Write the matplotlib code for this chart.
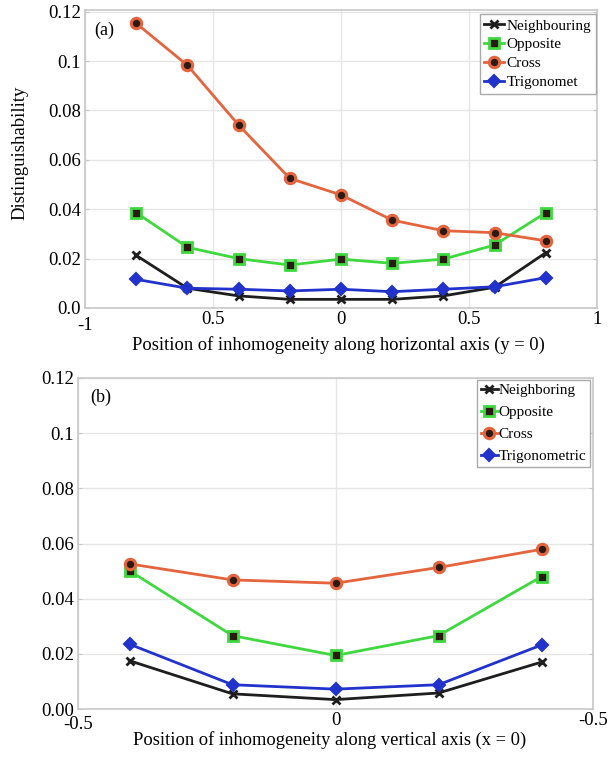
import matplotlib
matplotlib.use("Agg")
import matplotlib.pyplot as plt

plt.rcParams['font.family'] = ['Liberation Serif', 'DejaVu Serif']

# ---- data (a): horizontal axis, y = 0 ----
xa = [-0.8, -0.6, -0.4, -0.2, 0.0, 0.2, 0.4, 0.6, 0.8]
a_neigh = [0.0213, 0.0080, 0.0049, 0.0035, 0.0035, 0.0035, 0.0049, 0.0084, 0.0224]
a_opp = [0.0386, 0.0246, 0.0200, 0.0174, 0.0198, 0.0181, 0.0198, 0.0255, 0.0386]
a_cross = [0.1153, 0.0983, 0.0741, 0.0525, 0.0458, 0.0356, 0.0313, 0.0305, 0.0272]
a_trig = [0.0116, 0.0080, 0.0076, 0.0069, 0.0076, 0.0066, 0.0076, 0.0086, 0.0123]
a_labels = ['Neighbouring', 'Opposite', 'Cross', 'Trigonomet']
a_xticks = [-1, -0.5, 0, 0.5, 1]
a_xticklabels = ['-1', '0.5', '0', '0.5', '1']
a_yticks = [0.0, 0.02, 0.04, 0.06, 0.08, 0.1, 0.12]
a_yticklabels = ['0.0', '0.02', '0.04', '0.06', '0.08', '0.1', '0.12']

# ---- data (b): vertical axis, x = 0 ----
xb = [-0.4, -0.2, 0.0, 0.2, 0.4]
b_neigh = [0.0175, 0.0055, 0.0034, 0.0058, 0.0170]
b_opp = [0.0501, 0.0266, 0.0194, 0.0266, 0.0480]
b_cross = [0.0526, 0.0468, 0.0456, 0.0513, 0.0579]
b_trig = [0.0235, 0.0088, 0.0072, 0.0088, 0.0232]
b_labels = ['Neighboring', 'Opposite', 'Cross', 'Trigonometric']
b_xticks = [-0.5, 0, 0.5]
b_xticklabels = ['-0.5', '0', '-0.5']
b_yticks = [0.0, 0.02, 0.04, 0.06, 0.08, 0.1, 0.12]
b_yticklabels = ['0.00', '0.02', '0.04', '0.06', '0.08', '0.1', '0.12']

C_BLACK = '#1e1e1e'
C_GREEN = '#3fd83f'
C_ORANGE = '#e3643d'
C_BLUE = '#2233cc'
DARK = '#2a1a12'

W, H = 613, 760
fig = plt.figure(figsize=(W / 100, H / 100), dpi=100)

FS_TICK = 13.5
FS_LAB = 13.3
FS_LEG = 11


def draw(ax, x, neigh, opp, cross, trig, labels):
    ax.plot(x, neigh, color=C_BLACK, lw=2, marker='x', ms=6, mew=2,
            label=labels[0])
    ax.plot(x, opp, color=C_GREEN, lw=2, marker='s', ms=6.5, mew=2,
            mfc=DARK, mec=C_GREEN, label=labels[1])
    ax.plot(x, cross, color=C_ORANGE, lw=2, marker='o', ms=7.5, mew=2.2,
            mfc=DARK, mec=C_ORANGE, label=labels[2])
    ax.plot(x, trig, color=C_BLUE, lw=2, marker='D', ms=6.5, mew=1.5,
            mfc=C_BLUE, mec=C_BLUE, label=labels[3])


def style(ax):
    ax.grid(True, color='#e6e6e6', lw=1)
    ax.set_axisbelow(True)
    for s in ax.spines.values():
        s.set_color('#c8c8c8')
        s.set_linewidth(1.2)
    ax.tick_params(axis='both', length=0, labelsize=FS_TICK, colors='black', pad=3)
    ax.tick_params(axis='x', pad=2)
    ax.tick_params(axis='y', right=True, direction='in', length=3, color='#c8c8c8')


# ---- panel (a) ----
ax1 = fig.add_axes([85 / W, 1 - 308 / H, 512 / W, 298 / H])
draw(ax1, xa, a_neigh, a_opp, a_cross, a_trig, a_labels)
ax1.set_xlim(-1, 1)
ax1.set_ylim(0, 0.1207)
ax1.set_xticks(a_xticks)
ax1.set_xticklabels(a_xticklabels)
ax1.set_yticks(a_yticks)
ax1.set_yticklabels(a_yticklabels)
style(ax1)
ax1.get_xticklabels()[0].set_y(-0.02)
ax1.text(0.018, 0.933, '(a)', transform=ax1.transAxes,
         fontsize=13, va='center', ha='left')
leg1 = ax1.legend(loc='upper left', bbox_to_anchor=(0.771, 0.985), fontsize=FS_LEG,
                  handlelength=1.3, handletextpad=0.15, borderpad=0.3,
                  labelspacing=0.33, fancybox=False, framealpha=1,
                  edgecolor='#aaaaaa', borderaxespad=0)
leg1.get_frame().set_linewidth(1.0)

# ---- panel (b) ----
ax2 = fig.add_axes([78 / W, 1 - 709 / H, 515 / W, 331 / H])
draw(ax2, xb, b_neigh, b_opp, b_cross, b_trig, b_labels)
ax2.set_xlim(-0.5, 0.5)
ax2.set_ylim(0, 0.12)
ax2.set_xticks(b_xticks)
ax2.set_xticklabels(b_xticklabels)
ax2.set_yticks(b_yticks)
ax2.set_yticklabels(b_yticklabels)
style(ax2)
ax2.get_xticklabels()[0].set_y(-0.012)
ax2.text(0.023, 0.943, '(b)', transform=ax2.transAxes,
         fontsize=13, va='center', ha='left')
leg2 = ax2.legend(loc='upper left', bbox_to_anchor=(0.775, 0.995), fontsize=FS_LEG,
                  handlelength=1.1, handletextpad=0.05, borderpad=0.25,
                  labelspacing=0.55, fancybox=False, framealpha=1,
                  edgecolor='#aaaaaa', borderaxespad=0)
leg2.get_frame().set_linewidth(1.0)

# ---- axis titles ----
fig.text(338 / W, 1 - 345 / H, 'Position of inhomogeneity along horizontal axis (y = 0)',
         ha='center', va='center', fontsize=FS_LAB)
fig.text(330 / W, 1 - 740 / H, 'Position of inhomogeneity along vertical axis (x = 0)',
         ha='center', va='center', fontsize=FS_LAB)
fig.text(20 / W, 1 - 153 / H, 'Distinguishability', rotation=90,
         ha='center', va='center', fontsize=13.5)

fig.savefig('out.png', dpi=100)
